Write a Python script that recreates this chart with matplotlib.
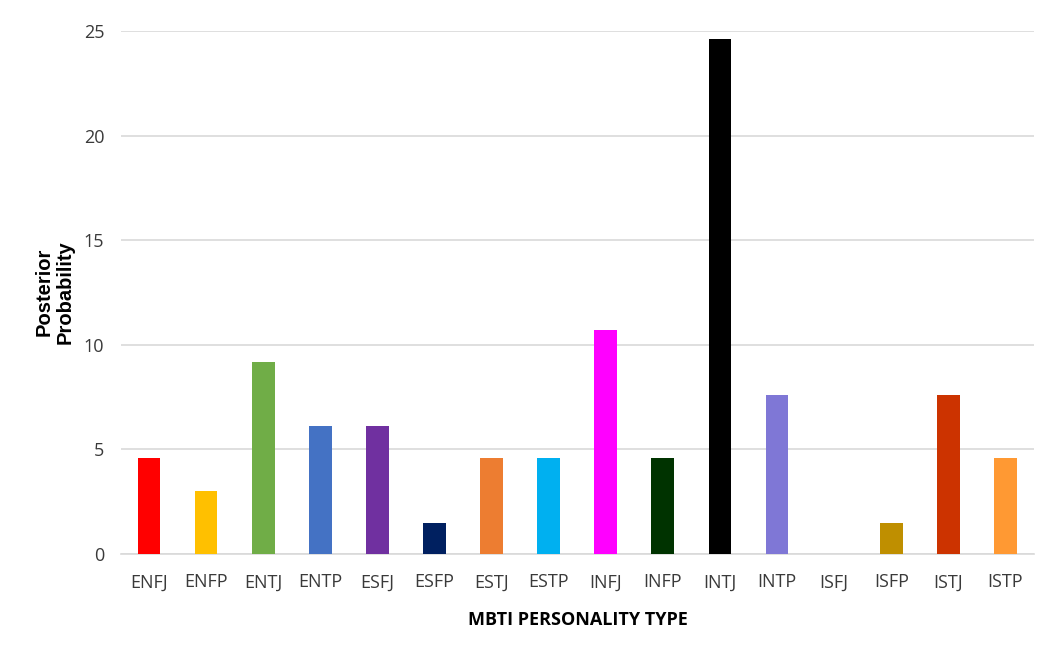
import matplotlib
matplotlib.use("Agg")
import matplotlib.pyplot as plt

types = ["ENFJ", "ENFP", "ENTJ", "ENTP", "ESFJ", "ESFP", "ESTJ", "ESTP",
         "INFJ", "INFP", "INTJ", "INTP", "ISFJ", "ISFP", "ISTJ", "ISTP"]
probability = [4.6, 3.0, 9.2, 6.1, 6.1, 1.5, 4.6, 4.6,
               10.7, 4.6, 24.6, 7.6, 0.0, 1.5, 7.6, 4.6]
colors = ["#ff0000", "#ffc000", "#70ad47", "#4472c4", "#7030a0", "#002060",
          "#ed7d31", "#00b0f0", "#ff00ff", "#003300", "#000000", "#7f77d6",
          "#ffffff", "#bf8f00", "#cc3300", "#ff9933"]
yticks = [0, 5, 10, 15, 20, 25]

tick_font = "Open Sans"

fig = plt.figure(figsize=(10.41, 6.65), dpi=100)
ax = fig.add_axes([121 / 1041, 1 - 554 / 665, 913 / 1041, 523 / 665])

x = list(range(len(types)))
ax.bar(x, probability, width=0.4, color=colors, zorder=3)

ax.set_xlim(-0.49, 15.5)
ax.set_ylim(0, 25)
ax.set_yticks(yticks)
ax.set_xticks(x)
ax.set_xticklabels(types)
ax.grid(axis="y", color="#d9d9d9", linewidth=1.2, zorder=0)
for s in ["top", "right", "left"]:
    ax.spines[s].set_visible(False)
ax.spines["bottom"].set_color("#d9d9d9")
ax.spines["bottom"].set_linewidth(1.2)
ax.tick_params(axis="both", length=0, colors="#3a3a3a", labelsize=13)
ax.tick_params(axis="x", pad=14)
ax.tick_params(axis="y", pad=12)
for lab in ax.get_xticklabels() + ax.get_yticklabels():
    lab.set_fontfamily(tick_font)

ax.set_xlabel("MBTI PERSONALITY TYPE", fontsize=13, fontweight="bold",
              family=tick_font, color="#000000", labelpad=14)
fig.text(55 / 1041, 1 - 292 / 665, "Posterior\nProbability", rotation=90,
         ha="center", va="center", fontsize=14.5, fontweight="bold",
         family="Liberation Sans", color="#000000", linespacing=1.15)

fig.savefig("out.png", dpi=100, facecolor="white")
